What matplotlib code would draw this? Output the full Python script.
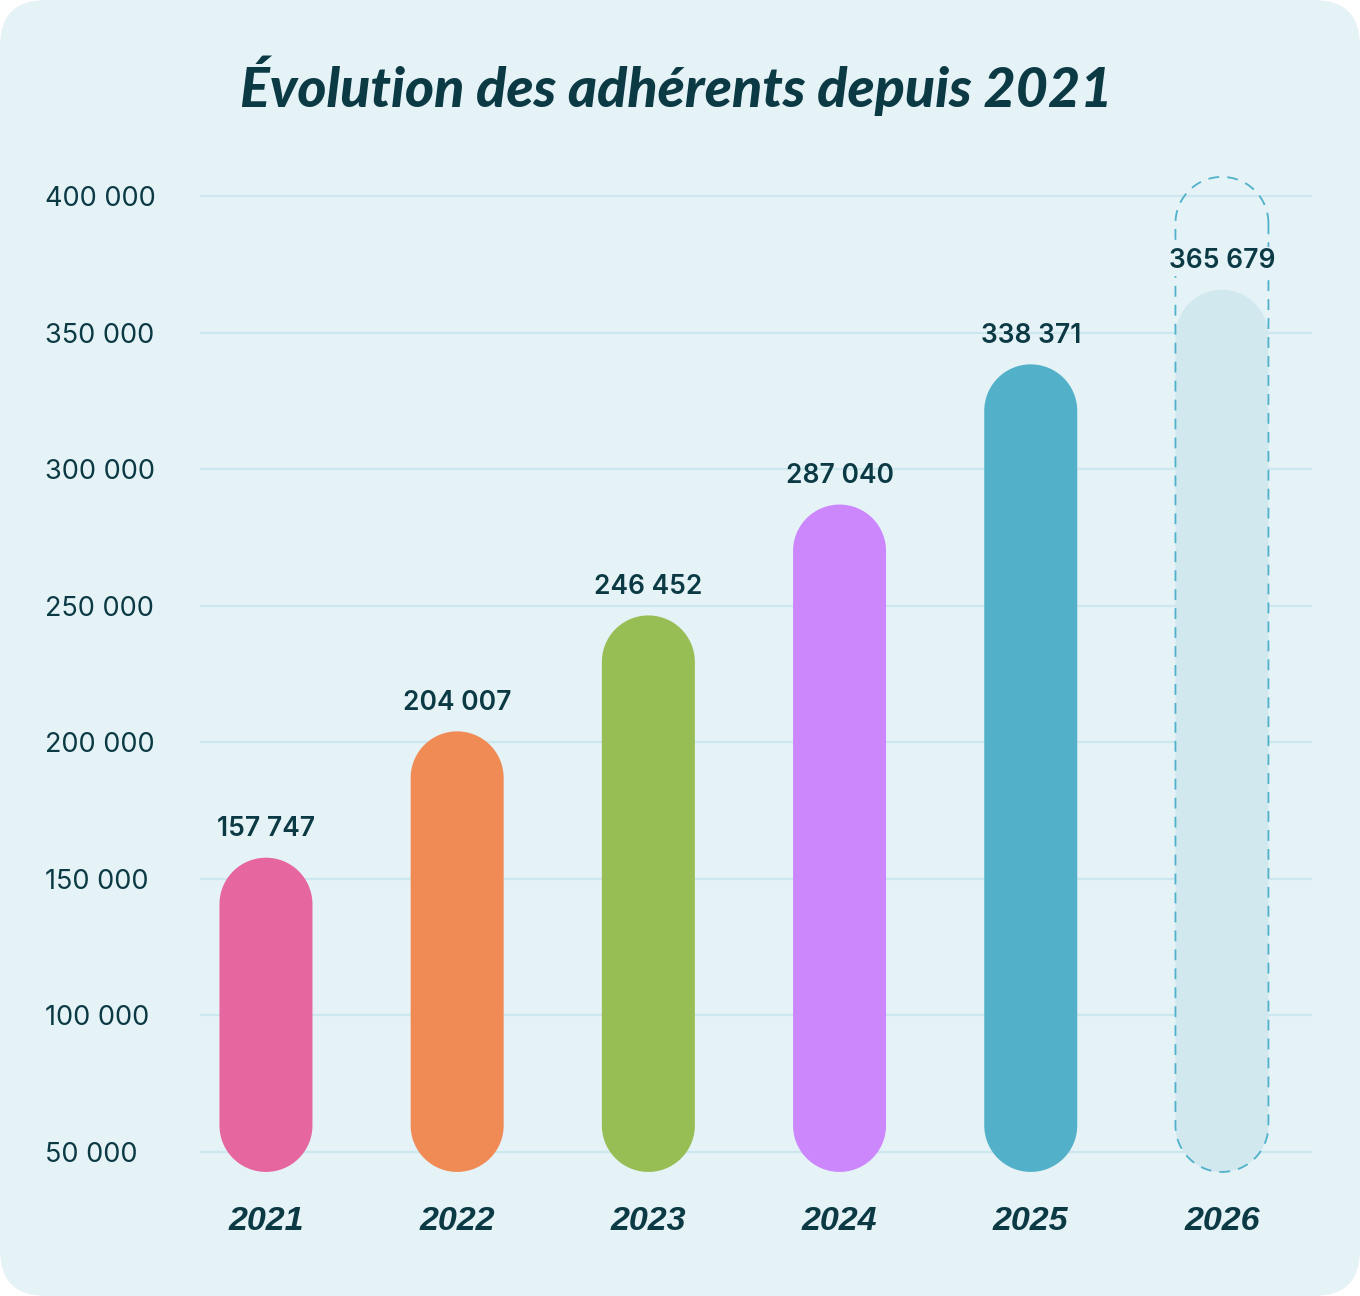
import numpy as np
import matplotlib
matplotlib.use('Agg')
import matplotlib.pyplot as plt
from matplotlib.patches import FancyBboxPatch, Polygon
from matplotlib.transforms import IdentityTransform

# data
annees = ['2021', '2022', '2023', '2024', '2025', '2026']
adherents = [157747, 204007, 246452, 287040, 338371, 365679]
couleurs = ['#e6669f', '#f08b55', '#97be55', '#cb87fb', '#52b1c8', '#d0e8ee']
graduations = [50000, 100000, 150000, 200000, 250000, 300000, 350000, 400000]
plafond_2026 = 407000   # top of the dashed outline on the last bar

fond = '#e5f3f7'
texte = '#0b3a45'
grille = '#cde7ee'
pointille = '#4fb1ca'

W, H = 1360, 1296
fig = plt.figure(figsize=(W / 100, H / 100), dpi=100)
fig.patch.set_facecolor('white')

# rounded background card
bg = fig.add_axes([0, 0, 1, 1])
bg.set_xlim(0, W)
bg.set_ylim(0, H)
bg.axis('off')
bg.add_patch(FancyBboxPatch((0, 0), W, H, boxstyle='round,pad=0,rounding_size=46',
                            facecolor=fond, edgecolor='none'))

fig.text(0.497, 1 - 86 / H, 'Évolution des adhérents depuis 2021', ha='center', va='center',
         fontsize=40, fontweight='black', fontstyle='italic', color=texte,
         family=['Lato', 'DejaVu Sans'])

ax = fig.add_axes([200 / W, 1 - 1190 / H, 1112 / W, 1040 / H])
ax.set_facecolor('none')
x = np.arange(len(annees))
ax.set_xlim(-0.345, 5.471)
ax.set_ylim(36088, 416846)
for s in ax.spines.values():
    s.set_visible(False)
ax.set_yticks(graduations)
ax.set_yticklabels([f'{v:,}'.replace(',', ' ') for v in graduations])
ax.tick_params(axis='y', length=0, pad=111.6, labelsize=19.5, labelcolor=texte)
for lab in ax.get_yticklabels():
    lab.set_horizontalalignment('left')
    lab.set_family(['Inter', 'DejaVu Sans'])
ax.set_xticks([])
ax.grid(axis='y', color=grille, linewidth=1.6)
ax.set_axisbelow(True)

# pills drawn in pixels, positions taken from the data scale
largeur = 93
bas = 42700
r = largeur / 2
t_haut = np.linspace(0, np.pi, 60)
t_bas = np.linspace(np.pi, 2 * np.pi, 60)


def pilule(xi, haut, **kw):
    cx, y_top = ax.transData.transform((xi, haut))
    _, y_bot = ax.transData.transform((xi, bas))
    yc_top, yc_bot = y_top - r, y_bot + r
    pts = np.vstack([
        np.column_stack([cx + r * np.cos(t_haut), yc_top + r * np.sin(t_haut)]),
        np.column_stack([cx + r * np.cos(t_bas), yc_bot + r * np.sin(t_bas)]),
    ])
    p = Polygon(pts, closed=True, transform=IdentityTransform(), **kw)
    ax.add_patch(p)
    p.set_clip_on(False)
    return p


for xi, v, c in zip(x, adherents, couleurs):
    pilule(xi, v, facecolor=c, edgecolor='none', zorder=3)
pilule(x[-1], plafond_2026, facecolor='none', edgecolor=pointille, linewidth=1.3,
       linestyle=(0, (6, 4.5)), zorder=4)

for xi, v in zip(x, adherents):
    t = ax.annotate(f'{v:,}'.replace(',', ' '), (xi, v), xytext=(0, 11), textcoords='offset points',
                    ha='center', va='bottom', fontsize=19, fontweight='semibold', color=texte,
                    family=['Inter', 'DejaVu Sans'], zorder=6, annotation_clip=False)
    if xi == x[-1]:
        t.set_bbox(dict(facecolor=fond, edgecolor='none', pad=1))

for xi, a in zip(x, annees):
    ax.text(xi, -32 / 1040, a, transform=ax.get_xaxis_transform(), ha='center', va='center',
            fontsize=24.5, fontweight='bold', fontstyle='italic', color=texte,
            family=['Liberation Sans', 'DejaVu Sans'])

fig.savefig('out.png', dpi=100, facecolor='white')
